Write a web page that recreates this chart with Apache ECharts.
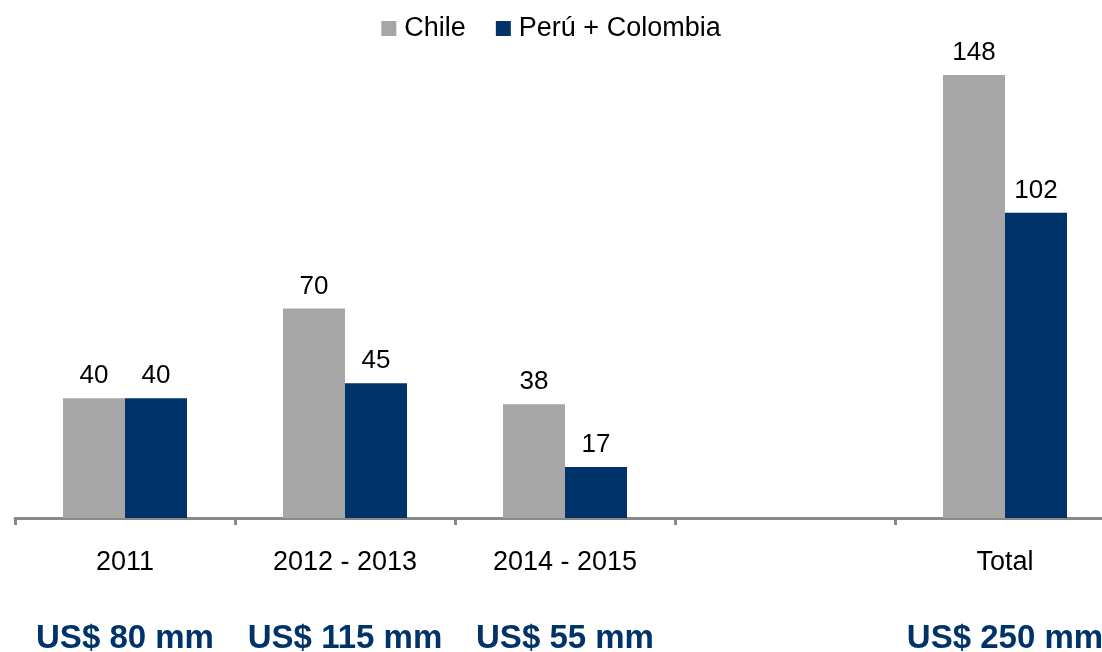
<!DOCTYPE html>
<html>
<head>
<meta charset="utf-8">
<style>
  html, body { margin: 0; padding: 0; background: #fff; }
  #chart { width: 1102px; height: 652px; }
</style>
<script src="https://cdn.jsdelivr.net/npm/echarts@6/dist/echarts.min.js"></script>
</head>
<body>
<div id="chart"></div>
<script>
const categories = ['2011', '2012 - 2013', '2014 - 2015', '', 'Total'];
const chile = [40, 70, 38, null, 148];
const peruColombia = [40, 45, 17, null, 102];
const totals = ['US$ 80 mm', 'US$ 115 mm', 'US$ 55 mm', '', 'US$ 250 mm'];

const myChart = echarts.init(document.getElementById('chart'));

const barLabel = {
    show: true,
    position: 'top',
    distance: 9,
    color: '#000',
    fontSize: 26,
    fontFamily: 'Liberation Sans'
};

myChart.setOption({
    animation: false,
    textStyle: { fontFamily: 'Liberation Sans' },
    legend: {
        top: 10,
        left: 'center',
        itemWidth: 15,
        itemHeight: 15,
        itemGap: 30,
        icon: 'rect',
        textStyle: { fontSize: 27, color: '#000', padding: [0, 0, 0, 3] },
        data: ['Chile', 'Perú + Colombia']
    },
    grid: {
        left: 15,
        width: 1100,
        top: 75,
        bottom: 134,
        outerBoundsMode: 'none',
        containLabel: false
    },
    xAxis: [
        {
            type: 'category',
            data: categories,
            axisLine: { lineStyle: { color: '#898989', width: 3 } },
            axisTick: { show: true, length: 7, lineStyle: { color: '#898989', width: 3 } },
            axisLabel: { margin: 31, fontSize: 27, color: '#000', interval: 0 }
        },
        {
            type: 'category',
            position: 'bottom',
            data: totals,
            axisLine: { show: false },
            axisTick: { show: false },
            axisLabel: {
                margin: 104,
                fontSize: 33,
                fontWeight: 'bold',
                color: '#00336A',
                interval: 0
            }
        }
    ],
    yAxis: {
        type: 'value',
        min: 0,
        max: 148,
        show: false,
        splitLine: { show: false }
    },
    series: [
        {
            name: 'Chile',
            type: 'bar',
            data: chile,
            barWidth: 62,
            barGap: '0%',
            itemStyle: { color: '#A6A6A6' },
            label: barLabel
        },
        {
            name: 'Perú + Colombia',
            type: 'bar',
            data: peruColombia,
            barWidth: 62,
            barGap: '0%',
            itemStyle: { color: '#00336A' },
            label: barLabel
        }
    ]
});
</script>
</body>
</html>
